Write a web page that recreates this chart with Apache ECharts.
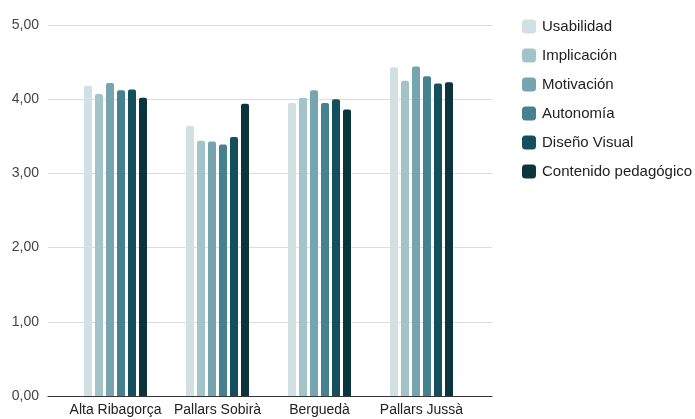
<!DOCTYPE html>
<html>
<head>
<meta charset="utf-8">
<script src="https://cdn.jsdelivr.net/npm/echarts@6/dist/echarts.min.js"></script>
<style>html,body{margin:0;padding:0;background:#fff;}#c{width:695px;height:419px;}</style>
</head>
<body>
<div id="c"></div>
<script>
const categories = ['Alta Ribagorça', 'Pallars Sobirà', 'Berguedà', 'Pallars Jussà'];
const seriesNames = ['Usabilidad', 'Implicación', 'Motivación', 'Autonomía', 'Diseño Visual', 'Contenido pedagógico'];
const usabilidad = [4.18, 3.64, 3.95, 4.43];
const implicacion = [4.07, 3.44, 4.02, 4.25];
const motivacion = [4.22, 3.43, 4.12, 4.44];
const autonomia = [4.12, 3.39, 3.95, 4.31];
const disenoVisual = [4.13, 3.49, 4.00, 4.21];
const contenido = [4.02, 3.94, 3.86, 4.23];
const yTicks = [0, 1, 2, 3, 4, 5];
const colors = ['#d0e0e3', '#a2c4c9', '#76a5af', '#45818e', '#134f5c', '#0c343d'];
const values = [usabilidad, implicacion, motivacion, autonomia, disenoVisual, contenido];

const chart = echarts.init(document.getElementById('c'));
const font = '"Liberation Sans", Arial, sans-serif';
chart.setOption({
  animation: false,
  color: colors,
  textStyle: { fontFamily: font },
  legend: {
    orient: 'vertical', left: 517, top: 14,
    itemWidth: 14, itemHeight: 14, itemGap: 14,
    icon: 'roundRect',
    textStyle: { color: '#222', fontSize: 15, lineHeight: 14, fontFamily: font, padding: [0, 0, 0, 1] },
    data: seriesNames
  },
  grid: [
    { left: 48, right: 203, top: 25, bottom: 23 },
    { left: 64.5, right: 222.5, top: 25, bottom: 23 }
  ],
  xAxis: [
    { gridIndex: 0, type: 'category', data: [''], axisLine: { lineStyle: { color: '#333', width: 1 } }, axisTick: { show: false }, axisLabel: { show: false } },
    { gridIndex: 1, type: 'category', data: categories, axisLine: { show: false }, axisTick: { show: false },
      axisLabel: { color: '#222', fontSize: 14, fontFamily: font, margin: 7, interval: 0 } }
  ],
  yAxis: [
    { gridIndex: 0, type: 'value', min: 0, max: 5, interval: 1,
      axisLine: { show: false }, axisTick: { show: false },
      splitLine: { lineStyle: { color: '#dcdcdc', width: 1 } },
      axisLabel: { color: '#444', fontSize: 14, fontFamily: font, margin: 9, formatter: v => v.toFixed(2).replace('.', ',') } },
    { gridIndex: 1, type: 'value', min: 0, max: 5, interval: 1, show: false, splitLine: { show: false } }
  ],
  series: seriesNames.map((name, i) => ({
    name, type: 'bar', xAxisIndex: 1, yAxisIndex: 1,
    data: values[i], barWidth: 8, barGap: '37.5%',
    itemStyle: { color: colors[i], borderRadius: [2, 2, 0, 0] }
  }))
});
</script>
</body>
</html>
